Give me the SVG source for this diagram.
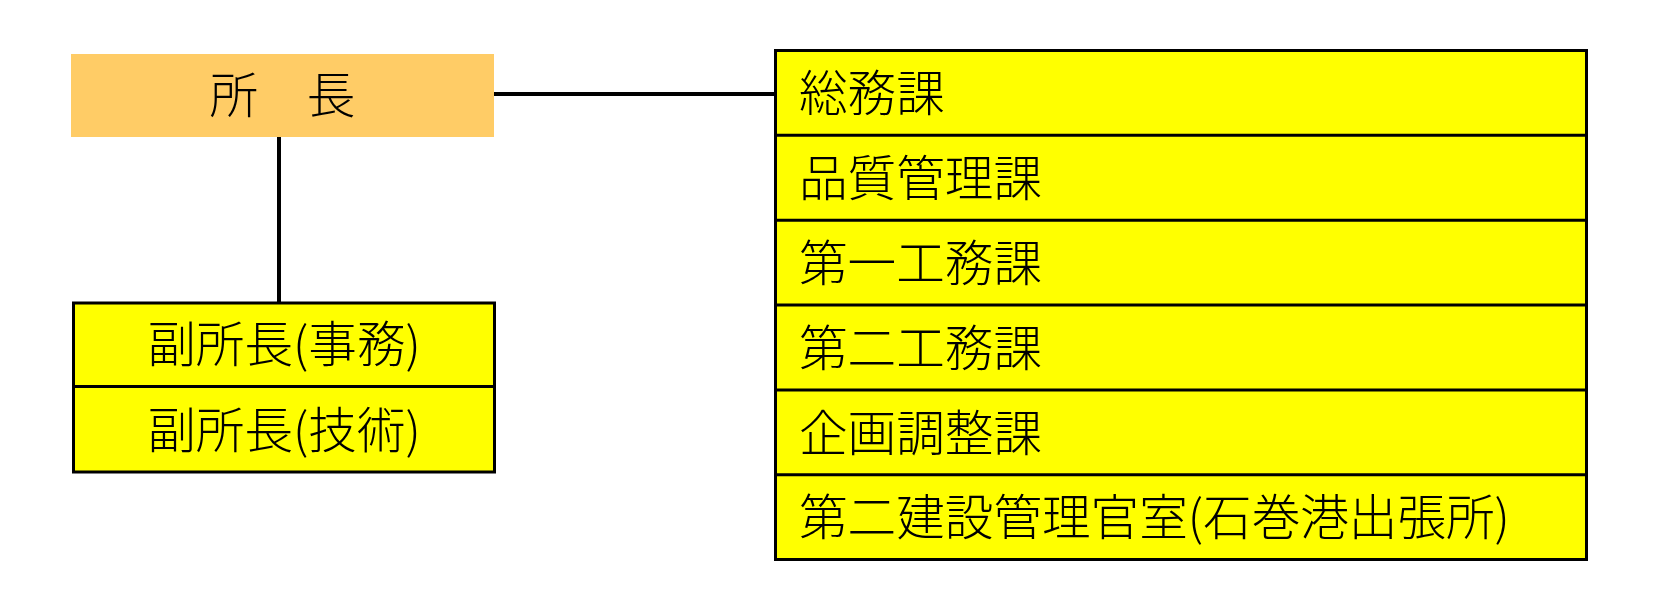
<svg xmlns="http://www.w3.org/2000/svg" width="1662" height="611" viewBox="0 0 1662 611">
<style>
.t{font-family:"Noto Sans CJK JP","Noto Sans CJK SC",sans-serif;font-size:48.6px;font-weight:300;fill:#000}
.box{fill:#ffff00;stroke:#000;stroke-width:3}
.div{stroke:#000;stroke-width:3}
.con{stroke:#000;stroke-width:4;fill:none}
</style>
<rect width="1662" height="611" fill="#fff"/>
<g id="connectors">
<line class="con" x1="494" y1="94" x2="775" y2="94"/>
<line class="con" x1="279" y1="137" x2="279" y2="302"/>
</g>
<g id="director">
<rect x="71" y="54" width="423" height="83" fill="#ffcc66"/>
<text class="t" x="282.5" y="112.5" text-anchor="middle">所　長</text>
</g>
<g id="deputies">
<rect class="box" x="73.5" y="303" width="421" height="169" stroke-width="3.5"/>
<line class="div" x1="73.5" y1="386.5" x2="494.5" y2="386.5"/>
<text class="t" x="284" y="361.5" text-anchor="middle">副所長(事務)</text>
<text class="t" x="284" y="447.5" text-anchor="middle">副所長(技術)</text>
</g>
<g id="divisions">
<rect class="box" x="775.5" y="50.5" width="811" height="509"/>
<line class="div" x1="775.5" y1="135.3" x2="1586.5" y2="135.3"/>
<line class="div" x1="775.5" y1="220.2" x2="1586.5" y2="220.2"/>
<line class="div" x1="775.5" y1="305" x2="1586.5" y2="305"/>
<line class="div" x1="775.5" y1="390" x2="1586.5" y2="390"/>
<line class="div" x1="775.5" y1="474.7" x2="1586.5" y2="474.7"/>
<text class="t" x="799" y="110.5">総務課</text>
<text class="t" x="799" y="195.5">品質管理課</text>
<text class="t" x="799" y="280.5">第一工務課</text>
<text class="t" x="799" y="365.5">第二工務課</text>
<text class="t" x="799" y="450.5">企画調整課</text>
<text class="t" x="799" y="534.5">第二建設管理官室(石巻港出張所)</text>
</g>
</svg>
